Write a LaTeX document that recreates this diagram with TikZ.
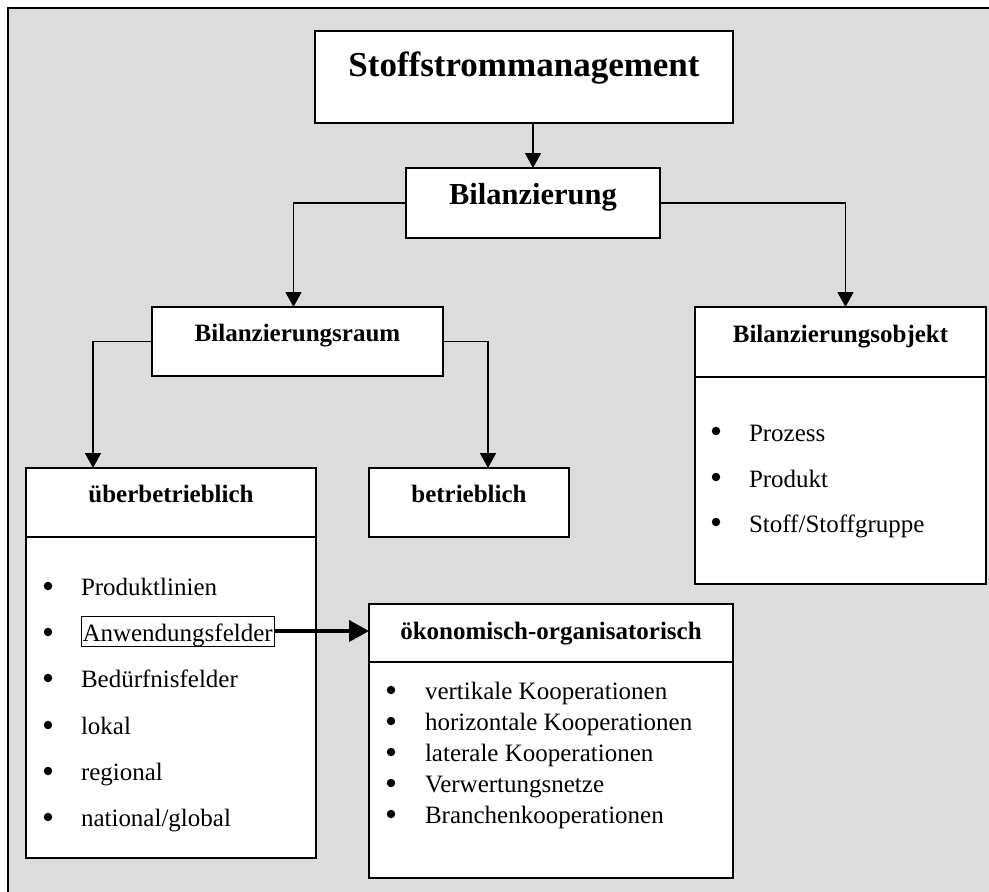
\documentclass[tikz,border=0pt]{standalone}
\usepackage{fontspec}
\setmainfont{Liberation Serif}
\usetikzlibrary{positioning,arrows.meta}
\definecolor{panelgray}{RGB}{220,220,220}

\begin{document}
\begin{tikzpicture}[x=1pt, y=-1pt, >={Triangle[length=15pt, width=16pt]}, line width=1.5pt,
	box/.style={rectangle, draw, fill=white, anchor=north west, outer sep=0pt, inner ysep=0pt, text height=34pt, text depth=35pt, font=\fontsize{25pt}{30pt}\selectfont\bfseries},
	list box/.style={rectangle, draw, fill=white, outer sep=0pt, inner sep=0pt, below=0pt of #1},
	item/.style={anchor=base west, inner sep=0pt, outer sep=0pt, font=\fontsize{25pt}{30pt}\selectfont},
	dot/.style={circle, fill, draw=none, inner sep=0pt, minimum size=8.5pt}]
	\useasboundingbox (0,0) rectangle (989,892);
	\fill[white] (0,0) rectangle (989,892);
	\fill[panelgray] (8,8) rectangle (995,900);
	\draw[-] (8,900) -- (8,8) -- (995,8);

	\node[box, minimum width=418pt, text height=45pt, text depth=47pt, font=\fontsize{35pt}{42pt}\selectfont\bfseries] (stoff) at (315,31) {Stoffstrommanagement};
	\node[box, minimum width=254pt, text height=36pt, text depth=34pt, font=\fontsize{30.5pt}{36pt}\selectfont\bfseries] (bil) at (406,168) {Bilanzierung};
	\node[box, minimum width=291pt] (raum) at (152,307) {Bilanzierungsraum};
	\node[box, minimum width=291pt, text height=35pt] (objhead) at (695,307) {Bilanzierungsobjekt};
	\node[list box=objhead, minimum width=291pt, minimum height=207pt] (objlist) {};
	\node[box, minimum width=290pt] (uebhead) at (26,468) {überbetrieblich};
	\node[list box=uebhead, minimum width=290pt, minimum height=321pt] (ueblist) {};
	\node[box, minimum width=200pt] (betr) at (369,468) {betrieblich};
	\node[box, minimum width=364pt, text height=35pt, text depth=23pt] (oekohead) at (369,604) {ökonomisch-organisatorisch};
	\node[list box=oekohead, minimum width=364pt, minimum height=216pt] (oekolist) {};

	% ueberbetrieblich
	\foreach \y [count=\i] in {586,632,678,725,771,817}
		\node[dot] (uebdot\i) at (48,\y) {};
	\node[item] (prodlin) at (81,595) {Produktlinien};
	\node[item, draw, line width=0.8pt, inner xsep=1.5pt, text height=25pt, text depth=5pt] (anw) at (81,641) {Anwendungsfelder};
	\node[item] (beduerf) at (81,687) {Bedürfnisfelder};
	\node[item] (lokal) at (81,734) {lokal};
	\node[item] (regional) at (81,780) {regional};
	\node[item] (national) at (81,826) {national/global};

	% Bilanzierungsobjekt
	\foreach \y [count=\i] in {431,477,522}
		\node[dot] (objdot\i) at (716,\y) {};
	\node[item] (prozess) at (749,441) {Prozess};
	\node[item] (produkt) at (749,487) {Produkt};
	\node[item] (stoffgr) at (749,532) {Stoff/Stoffgruppe};

	% oekonomisch-organisatorisch
	\foreach \y [count=\i] in {690,721,752,783,814}
		\node[dot] (oekodot\i) at (391,\y) {};
	\node[item] (vertikal) at (425,699) {vertikale Kooperationen};
	\node[item] (horizontal) at (425,730) {horizontale Kooperationen};
	\node[item] (lateral) at (425,761) {laterale Kooperationen};
	\node[item] (verwertung) at (425,792) {Verwertungsnetze};
	\node[item] (branchen) at (425,823) {Branchenkooperationen};

	\draw[->] (stoff.south -| bil.north) -- (bil.north);
	\draw[->] (bil.west) -| ([xshift=-4pt]raum.north);
	\draw[->] (bil.east) -| ([xshift=5pt]objhead.north);
	\draw[->] (raum.west) -| ([xshift=67pt]uebhead.north west);
	\draw[->] (raum.east) -| ([xshift=19pt]betr.north);
	\draw[-{Triangle[length=20pt, width=21pt]}, line width=4pt] (anw.east) -- (anw.east -| oekohead.west);
\end{tikzpicture}
\end{document}
